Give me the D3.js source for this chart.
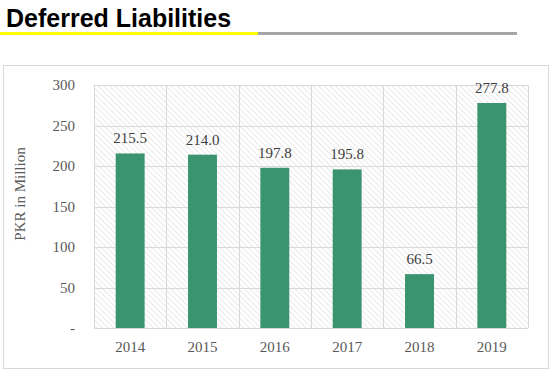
<!DOCTYPE html>
<html>
<head>
<meta charset="utf-8">
<script src="https://cdn.jsdelivr.net/npm/d3@7"></script>
<style>
  body { margin: 0; background: #fff; }
</style>
</head>
<body>
<div id="chart"></div>
<script>
const years = ['2014', '2015', '2016', '2017', '2018', '2019'];
const values = [215.5, 214.0, 197.8, 195.8, 66.5, 277.8];
const yTicks = [0, 50, 100, 150, 200, 250, 300];

const W = 553, H = 374;
const plot = {left: 94, right: 528, top: 85, bottom: 328};

const svg = d3.select('#chart')
  .append('svg')
  .attr('width', W)
  .attr('height', H);

// hachurado del área de trazado
const defs = svg.append('defs');
defs.append('pattern')
  .attr('id', 'hatch')
  .attr('patternUnits', 'userSpaceOnUse')
  .attr('width', 4)
  .attr('height', 4)
  .attr('patternTransform', 'rotate(-45)')
  .append('line')
  .attr('x1', 0).attr('y1', 0)
  .attr('x2', 0).attr('y2', 4)
  .attr('stroke', '#d4d4d4')
  .attr('stroke-width', 1);

// --- TÍTULO ---
svg.append('text')
  .attr('x', 6)
  .attr('y', 27)
  .attr('font-family', 'Liberation Sans, Arial, sans-serif')
  .attr('font-weight', 'bold')
  .attr('font-size', 25)
  .attr('fill', '#000')
  .text('Deferred Liabilities');

svg.append('rect').attr('x', 0).attr('y', 32).attr('width', 258).attr('height', 3).attr('fill', '#ffff00');
svg.append('rect').attr('x', 258).attr('y', 32).attr('width', 259).attr('height', 3).attr('fill', '#a6a6a6');

// marco del gráfico
svg.append('rect')
  .attr('x', 3.5).attr('y', 65.5)
  .attr('width', 545).attr('height', 303)
  .attr('fill', '#fff')
  .attr('stroke', '#d9d9d9');

// --- ESCALAS ---
const x = d3.scaleBand().domain(years).range([plot.left, plot.right]).padding(0);
const y = d3.scaleLinear().domain([0, 300]).range([plot.bottom, plot.top]);
const barW = x.bandwidth() * 0.4;

svg.append('rect')
  .attr('x', plot.left).attr('y', plot.top)
  .attr('width', plot.right - plot.left).attr('height', plot.bottom - plot.top)
  .attr('fill', 'url(#hatch)');

// rejilla
svg.append('g')
  .selectAll('line')
  .data(yTicks)
  .enter().append('line')
  .attr('x1', plot.left).attr('x2', plot.right)
  .attr('y1', d => Math.round(y(d)) + 0.5).attr('y2', d => Math.round(y(d)) + 0.5)
  .attr('stroke', '#d9d9d9');

svg.append('g')
  .selectAll('line')
  .data(years.concat(['end']))
  .enter().append('line')
  .attr('x1', (d, i) => Math.round(plot.left + i * x.step()) + 0.5)
  .attr('x2', (d, i) => Math.round(plot.left + i * x.step()) + 0.5)
  .attr('y1', plot.top).attr('y2', plot.bottom)
  .attr('stroke', '#d9d9d9');

// --- EJES ---
const yAxis = svg.append('g')
  .attr('transform', `translate(${plot.left},0)`)
  .call(d3.axisLeft(y).tickValues(yTicks).tickSize(0).tickPadding(19)
    .tickFormat(d => d === 0 ? '-' : d));
yAxis.select('.domain').remove();
yAxis.selectAll('text')
  .attr('font-family', 'Liberation Serif, Times New Roman, serif')
  .attr('font-size', 15)
  .attr('fill', '#595959');

const xAxis = svg.append('g')
  .attr('transform', `translate(0,${plot.bottom})`)
  .call(d3.axisBottom(x).tickSize(0).tickPadding(13));
xAxis.select('.domain').remove();
xAxis.selectAll('text')
  .attr('font-family', 'Liberation Serif, Times New Roman, serif')
  .attr('font-size', 15)
  .attr('fill', '#595959');

svg.append('text')
  .attr('transform', `translate(25,194) rotate(-90)`)
  .attr('text-anchor', 'middle')
  .attr('font-family', 'Liberation Serif, Times New Roman, serif')
  .attr('font-size', 15)
  .attr('fill', '#595959')
  .text('PKR in Million');

// --- BARRAS ---
svg.selectAll('.bar')
  .data(values)
  .enter().append('rect')
  .attr('class', 'bar')
  .attr('x', (d, i) => x(years[i]) + (x.bandwidth() - barW) / 2)
  .attr('y', d => y(d))
  .attr('width', barW)
  .attr('height', d => y(0) - y(d))
  .attr('fill', '#3b9470');

// Etiquetas
svg.selectAll('.label')
  .data(values)
  .enter().append('text')
  .attr('x', (d, i) => x(years[i]) + x.bandwidth() / 2)
  .attr('y', d => y(d) - 10)
  .attr('text-anchor', 'middle')
  .attr('font-family', 'Liberation Serif, Times New Roman, serif')
  .attr('font-size', 15)
  .attr('fill', '#404040')
  .text(d => d.toFixed(1));
</script>
</body>
</html>
